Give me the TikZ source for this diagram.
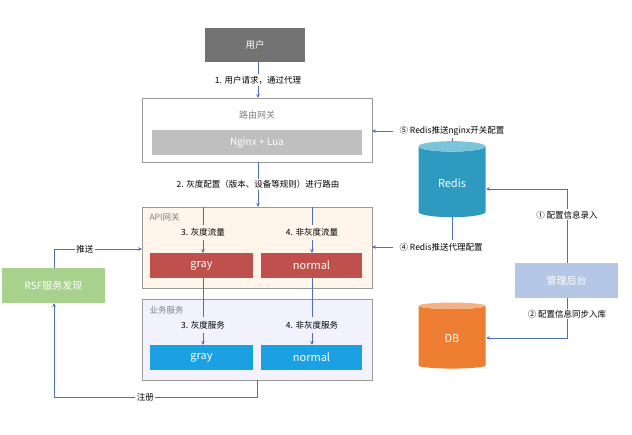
\documentclass[tikz,border=0pt]{standalone}
\usepackage{fontspec}
\setmainfont{Noto Sans CJK SC}
\usetikzlibrary{shapes.geometric,arrows.meta}
\definecolor{ln}{HTML}{4F6FB5}
\definecolor{red1}{HTML}{C0504D}
\definecolor{blue1}{HTML}{1BA1E2}
\definecolor{redis}{HTML}{2E9AC0}
\definecolor{redistop}{HTML}{7CC3DC}
\definecolor{db}{HTML}{ED7D31}
\definecolor{dbtop}{HTML}{F4B183}
\definecolor{adm}{HTML}{B4C7E7}
\definecolor{rsfc}{HTML}{A9D18E}
\begin{document}
\begin{tikzpicture}[x=1pt,y=-1pt,font=\fontsize{8.5}{9}\selectfont,
  box/.style={draw=none,inner sep=0pt,text=white},
  panel/.style={draw=gray!80,line width=0.6pt},
  ttl/.style={text=gray,anchor=west,font=\fontsize{8.5}{9}\selectfont},
  lab/.style={fill=white,inner sep=1.5pt},
  ar/.style={draw=ln,line width=0.7pt,-{Stealth[length=4pt,width=3.5pt]}},
  pl/.style={draw=ln,line width=0.7pt},
  cyl/.style={cylinder,shape border rotate=90,aspect=0.3,minimum width=67pt,minimum height=76pt,draw=none,cylinder uses custom fill,text=white,font=\fontsize{11}{12}\selectfont}]
\useasboundingbox (0,0) rectangle (632,435);
% user
\path[fill=gray!90!black] (205,28) rectangle (305,62);
\node[box,font=\fontsize{9.5}{10}\selectfont] (user) at (255,45) {用户};
\coordinate (userb) at (258,62);
% route gateway
\draw[panel,fill=white] (142,98) rectangle (372,162);
\coordinate (rgt) at (258,98);
\coordinate (rgb) at (258,162);
\node[text=gray,font=\fontsize{9}{10}\selectfont] (rgtitle) at (257,115) {路由网关};
\path[fill=gray!50] (152,130) rectangle (362,155);
\node[box,font=\fontsize{10}{11}\selectfont] (ng) at (257,142.5) {Nginx + Lua};
\draw[ar] (userb) -- node[lab]{1. 用户请求，通过代理} (rgt);
% API gateway
\draw[panel,fill=orange!8] (142,207) rectangle (372,288);
\coordinate (apit) at (258,207);
\node[ttl] (apititle) at (146,217) {API网关};
\draw[ar] (rgb) -- node[lab]{2. 灰度配置（版本、设备等规则）进行路由} (apit);
\path[fill=red1] (150,253) rectangle (253,278);
\path[fill=red1] (261,253) rectangle (362,278);
\node[box,font=\fontsize{11}{12}\selectfont] (rg) at (201.5,265.5) {gray};
\node[box,font=\fontsize{11}{12}\selectfont] (rn) at (311.5,265.5) {normal};
\coordinate (a1) at (203,207); \coordinate (a2) at (312,207);
\draw[pl] (a1) -- (203,225); \draw[ar] (203,240) -- (203,253);
\draw[pl] (a2) -- (312,225); \draw[ar] (312,240) -- (312,253);
\node (l3) at (203,232) {3. 灰度流量};
\node (l4) at (312,232) {4. 非灰度流量};
% service
\draw[panel,fill=blue!5] (142,299) rectangle (372,380);
\node[ttl] (svtitle) at (146,310) {业务服务};
\path[fill=blue1] (150,345) rectangle (253,370);
\path[fill=blue1] (261,345) rectangle (362,370);
\node[box,font=\fontsize{11}{12}\selectfont] (bg) at (201.5,357.5) {gray};
\node[box,font=\fontsize{11}{12}\selectfont] (bn) at (311.5,357.5) {normal};
\draw[pl] (203,278) -- (203,317); \draw[ar] (203,333) -- (203,345);
\draw[pl] (312,278) -- (312,317); \draw[ar] (312,333) -- (312,345);
\node (l5) at (203,325) {3. 灰度服务};
\node (l6) at (312,325) {4. 非灰度服务};
% RSF
\path[fill=rsfc] (2,268) rectangle (105,303);
\node[box,font=\fontsize{10}{11}\selectfont] (rsf) at (53.5,285.5) {RSF服务发现};
\draw[ar] (54,268) -- (54,249) -- node[lab,pos=0.35]{推送} (142,249);
\draw[ar] (257,380) -- (257,397) -- node[lab,pos=0.55]{注册} (54,397) -- (54,303);
% Redis & DB
\node[cyl,cylinder body fill=redis,cylinder end fill=redistop] (redisn) at (452,183) {\raisebox{-6pt}{Redis}};
\node[cyl,cylinder body fill=db,cylinder end fill=dbtop,minimum height=66pt] (dbn) at (452,338) {\raisebox{-5pt}{DB}};
\draw[pl] (redisn.top) -- (452,138);
\draw[ar] (393,131) -- (372,131);
\node[anchor=west] (l5r) at (396,131) {⑤ Redis推送nginx开关配置};
\draw[pl] (redisn.bottom) -- (452,240);
\draw[ar] (393,247) -- (372,247);
\node[anchor=west] (l4r) at (396,247) {④ Redis推送代理配置};
% admin
\path[fill=adm] (515,263) rectangle (618,298);
\node[box,font=\fontsize{10}{11}\selectfont] (admn) at (566.5,280.5) {管理后台};
\draw[ar] (567,263) -- node[lab,pos=0.65]{① 配置信息录入} (567,189) -- (486,189);
\draw[ar] (567,298) -- node[lab,pos=0.4]{② 配置信息同步入库} (567,338) -- (486,338);
\end{tikzpicture}
\end{document}
